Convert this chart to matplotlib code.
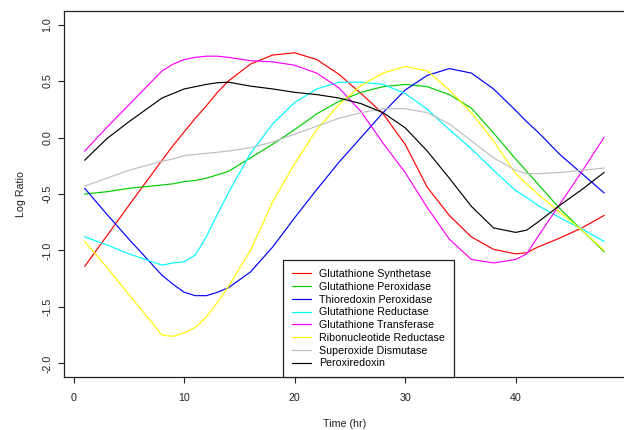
#!/usr/bin/env python3
"""Log ratio time courses of oxidative-stress genes, R base-graphics look."""

import matplotlib

matplotlib.use("Agg")
import matplotlib.pyplot as plt

HOURS = [1, 3, 5, 8, 9, 10, 11, 12, 13, 14, 16, 18, 20, 22, 24, 26, 28, 30,
         32, 34, 36, 38, 40, 41, 42, 44, 46, 48]

GLUTATHIONE_SYNTHETASE = [
    -1.14, -0.87, -0.60, -0.20, -0.07, 0.05, 0.17, 0.28, 0.40, 0.50, 0.65, 0.73,
    0.75, 0.69, 0.56, 0.39, 0.21, -0.06, -0.44, -0.69, -0.88, -0.99, -1.03,
    -1.02, -0.97, -0.89, -0.80, -0.69,
]
GLUTATHIONE_PEROXIDASE = [
    -0.50, -0.48, -0.45, -0.42, -0.41, -0.39, -0.38, -0.36, -0.33, -0.30, -0.18,
    -0.06, 0.07, 0.21, 0.32, 0.40, 0.45, 0.47, 0.45, 0.38, 0.26, 0.04, -0.19,
    -0.30, -0.41, -0.63, -0.82, -1.01,
]
THIOREDOXIN_PEROXIDASE = [
    -0.45, -0.68, -0.90, -1.22, -1.30, -1.37, -1.40, -1.40, -1.37, -1.33, -1.19,
    -0.97, -0.71, -0.46, -0.22, 0.00, 0.22, 0.42, 0.55, 0.61, 0.57, 0.43, 0.24,
    0.14, 0.05, -0.15, -0.32, -0.49,
]
GLUTATHIONE_REDUCTASE = [
    -0.88, -0.95, -1.03, -1.13, -1.11, -1.10, -1.04, -0.88, -0.68, -0.49, -0.14,
    0.12, 0.31, 0.43, 0.49, 0.49, 0.47, 0.39, 0.25, 0.07, -0.10, -0.29, -0.47,
    -0.53, -0.60, -0.71, -0.81, -0.92,
]
GLUTATHIONE_TRANSFERASE = [
    -0.12, 0.09, 0.29, 0.59, 0.65, 0.69, 0.71, 0.72, 0.72, 0.71, 0.68, 0.67,
    0.64, 0.57, 0.44, 0.23, -0.05, -0.31, -0.62, -0.90, -1.08, -1.11, -1.08,
    -1.03, -0.88, -0.59, -0.30, 0.00,
]
RIBONUCLEOTIDE_REDUCTASE = [
    -0.92, -1.15, -1.39, -1.75, -1.76, -1.73, -1.68, -1.59, -1.46, -1.32, -1.00,
    -0.57, -0.23, 0.07, 0.29, 0.46, 0.57, 0.63, 0.59, 0.42, 0.22, -0.03, -0.32,
    -0.41, -0.50, -0.66, -0.82, -1.00,
]
SUPEROXIDE_DISMUTASE = [
    -0.43, -0.36, -0.29, -0.21, -0.19, -0.16, -0.15, -0.14, -0.13, -0.12, -0.09,
    -0.04, 0.03, 0.10, 0.17, 0.22, 0.255, 0.255, 0.22, 0.12, -0.03, -0.18,
    -0.29, -0.32, -0.32, -0.31, -0.29, -0.27,
]
PEROXIREDOXIN = [
    -0.20, -0.01, 0.14, 0.35, 0.39, 0.43, 0.45, 0.47, 0.485, 0.49, 0.455, 0.43,
    0.40, 0.38, 0.35, 0.30, 0.22, 0.086, -0.12, -0.36, -0.61, -0.80, -0.84,
    -0.82, -0.75, -0.60, -0.46, -0.31,
]

SERIES = [
    ("Glutathione Synthetase", GLUTATHIONE_SYNTHETASE, "#FF0000"),
    ("Glutathione Peroxidase", GLUTATHIONE_PEROXIDASE, "#00CD00"),
    ("Thioredoxin Peroxidase", THIOREDOXIN_PEROXIDASE, "#0000FF"),
    ("Glutathione Reductase", GLUTATHIONE_REDUCTASE, "#00FFFF"),
    ("Glutathione Transferase", GLUTATHIONE_TRANSFERASE, "#FF00FF"),
    ("Ribonucleotide Reductase", RIBONUCLEOTIDE_REDUCTASE, "#FFFF00"),
    ("Superoxide Dismutase", SUPEROXIDE_DISMUTASE, "#BEBEBE"),
    ("Peroxiredoxin", PEROXIREDOXIN, "#000000"),
]

X_TICKS = [0, 10, 20, 30, 40]
Y_TICKS = [-2.0, -1.5, -1.0, -0.5, 0.0, 0.5, 1.0]

W, H = 624, 430


def main():
    plt.rcParams.update({
        "font.family": ["Liberation Sans", "DejaVu Sans"],
        "font.size": 7.7,
        "axes.unicode_minus": False,
    })
    fig = plt.figure(figsize=(W / 100, H / 100), dpi=100)
    # plot region in pixels: left 64, top 11, bottom 377; right edge falls
    # just outside the picture, as in the original export
    ax = fig.add_axes([64 / W, (H - 377) / H, 563 / W, 366 / H])

    for label, values, color in SERIES:
        ax.plot(HOURS, values, color=color, linewidth=0.85, label=label)

    # R pads the data range by 4% on each side
    ax.set_xlim(1 - 0.04 * 47, 48 + 0.04 * 47 + 0.2)
    ax.set_ylim(-2.0 - 0.04 * 3, 1.0 + 0.04 * 3)
    ax.set_xticks(X_TICKS)
    ax.set_xticklabels([str(t) for t in X_TICKS])
    ax.set_yticks(Y_TICKS)
    ax.set_yticklabels([f"{v:.1f}" for v in Y_TICKS], rotation=90, va="center")

    for spine in ax.spines.values():
        spine.set_color("#222222")
        spine.set_linewidth(0.9)
    ax.tick_params(axis="both", direction="out", length=4.3, width=0.8,
                   color="#222222", labelcolor="#222222")
    ax.tick_params(axis="x", pad=7)
    ax.tick_params(axis="y", pad=4)

    fig.text(345 / W, 1 - 424 / H, "Time (hr)", ha="center", va="center",
             color="#222222")
    fig.text(21 / W, 1 - 194 / H, "Log Ratio", ha="center", va="center",
             rotation=90, color="#222222")

    leg = ax.legend(loc="lower left", bbox_to_anchor=((283 - 64) / 563, 0),
                    borderaxespad=0, frameon=True, fancybox=False,
                    handlelength=1.8, handletextpad=0.8, labelspacing=0.26,
                    borderpad=0.8)
    frame = leg.get_frame()
    frame.set_edgecolor("#222222")
    frame.set_linewidth(0.9)
    frame.set_alpha(1)

    fig.savefig("out.png", dpi=100)
    plt.close(fig)


if __name__ == "__main__":
    main()
